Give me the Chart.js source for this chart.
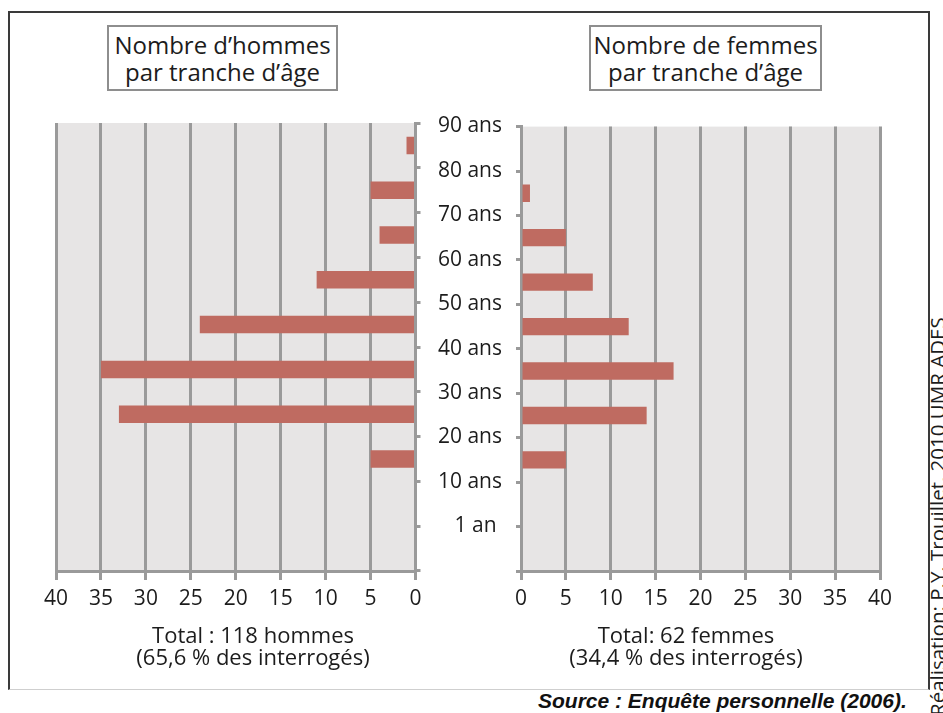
<!DOCTYPE html>
<html lang="fr">
<head>
<meta charset="utf-8">
<title>Hommes et femmes par tranche d'âge</title>
<script src="https://cdn.jsdelivr.net/npm/chart.js@4.4.1/dist/chart.umd.min.js"></script>
<style>
  html, body { margin: 0; padding: 0; background: #fff; }
  body { width: 943px; height: 713px; position: relative; overflow: hidden;
         font-family: "Open Sans", sans-serif; color: #1c1c1c; }
  #frame { position: absolute; left: 8px; top: 11px; width: 922px; height: 679px;
           border: 2px solid #3a3a3a; border-bottom: 1px solid #cfcfcf; box-sizing: border-box; }
  .tbox { position: absolute; top: 25px; height: 66px; border: 2px solid #8e8e8e; box-sizing: border-box;
          text-align: center; font-size: 24px; line-height: 27px; padding-top: 4px; background: #fff; }
  .note { position: absolute; top: 623px; width: 320px; text-align: center; font-size: 22px; line-height: 22px; }
  canvas { position: absolute; }
  #source { position: absolute; left: 538px; top: 689px; font: italic bold 21px "Liberation Sans", Arial, sans-serif;
            color: #111; white-space: nowrap; }
  #credit { position: absolute; left: 927px; top: 716px; transform-origin: left top; transform: rotate(-90deg);
            font-size: 20.5px; line-height: 20px; white-space: nowrap; color: #1c1c1c; }
</style>
</head>
<body>
<div id="frame"></div>
<div class="tbox" style="left:107px; width:231px;">Nombre d’hommes<br>par tranche d’âge</div>
<div class="tbox" style="left:589px; width:233px;">Nombre de femmes<br>par tranche d’âge</div>
<canvas id="hommes" width="440" height="530" style="left:0; top:100px;"></canvas>
<canvas id="femmes" width="480" height="530" style="left:430px; top:100px;"></canvas>
<div class="note" style="left:93px;">Total : 118 hommes<br>(65,6 % des interrogés)</div>
<div class="note" style="left:526px;">Total: 62 femmes<br>(34,4 % des interrogés)</div>
<div id="source">Source : Enquête personnelle (2006).</div>
<div id="credit">Réalisation: P.Y. Trouillet, 2010 UMR ADES</div>
<script>
// age bands, top to bottom; each label sits on the upper edge of its band
const ageLabels = ['90 ans', '80 ans', '70 ans', '60 ans', '50 ans', '40 ans', '30 ans', '20 ans', '10 ans', '1 an '];
const hommes = [1, 5, 4, 11, 24, 35, 33, 5, 0, 0];
const femmes = [0, 1, 5, 8, 12, 17, 14, 5, 0, 0];
const countTicks = [0, 5, 10, 15, 20, 25, 30, 35, 40];

const barColor = '#bf6b61';
const gridColor = '#9a9a9a';
const plotFill = '#e7e5e5';

// grey background behind the plot area
const plotBackground = {
    id: 'plotBackground',
    beforeDraw(chart) {
        const { ctx, chartArea: a } = chart;
        ctx.save();
        ctx.fillStyle = plotFill;
        ctx.fillRect(a.left, a.top, a.right - a.left, a.bottom - a.top);
        ctx.restore();
    }
};

const tickFont = { family: 'Open Sans', size: 21 };

function makeChart(id, values, side) {
    const left = side === 'left';
    return new Chart(document.getElementById(id), {
        type: 'bar',
        data: {
            labels: ageLabels,
            datasets: [{
                data: values,
                backgroundColor: barColor,
                borderWidth: 0,
                barPercentage: 1,
                categoryPercentage: 0.39
            }]
        },
        options: {
            indexAxis: 'y',
            responsive: false,
            animation: false,
            layout: { padding: left ? { left: 56, top: 23, right: 0, bottom: 0 } : { left: 0, top: 23, right: 30, bottom: 0 } },
            plugins: { legend: { display: false }, tooltip: { enabled: false } },
            scales: {
                x: {
                    type: 'linear',
                    reverse: left,
                    min: 0,
                    max: 40,
                    afterBuildTicks: s => { s.ticks = countTicks.map(v => ({ value: v })); },
                    afterFit: s => { s.height = 59; },
                    grid: { color: gridColor, lineWidth: 3, tickLength: 9, drawTicks: true },
                    border: { display: true, color: gridColor, width: 3 },
                    ticks: { font: tickFont, color: '#1c1c1c', padding: 6, maxRotation: 0 }
                },
                y: {
                    type: 'category',
                    position: left ? 'right' : 'left',
                    offset: true,
                    afterFit: s => { s.width = left ? 24.5 : 91; },
                    grid: { offset: true, drawOnChartArea: false, drawTicks: true, tickLength: 5, color: gridColor, lineWidth: 3 },
                    border: { display: true, color: gridColor, width: 3 },
                    ticks: {
                        display: !left,
                        font: tickFont,
                        color: '#1c1c1c',
                        padding: 14,
                        labelOffset: -22.4,
                        autoSkip: false
                    }
                }
            }
        },
        plugins: [plotBackground]
    });
}

makeChart('hommes', hommes, 'left');
makeChart('femmes', femmes, 'right');
</script>
</body>
</html>
